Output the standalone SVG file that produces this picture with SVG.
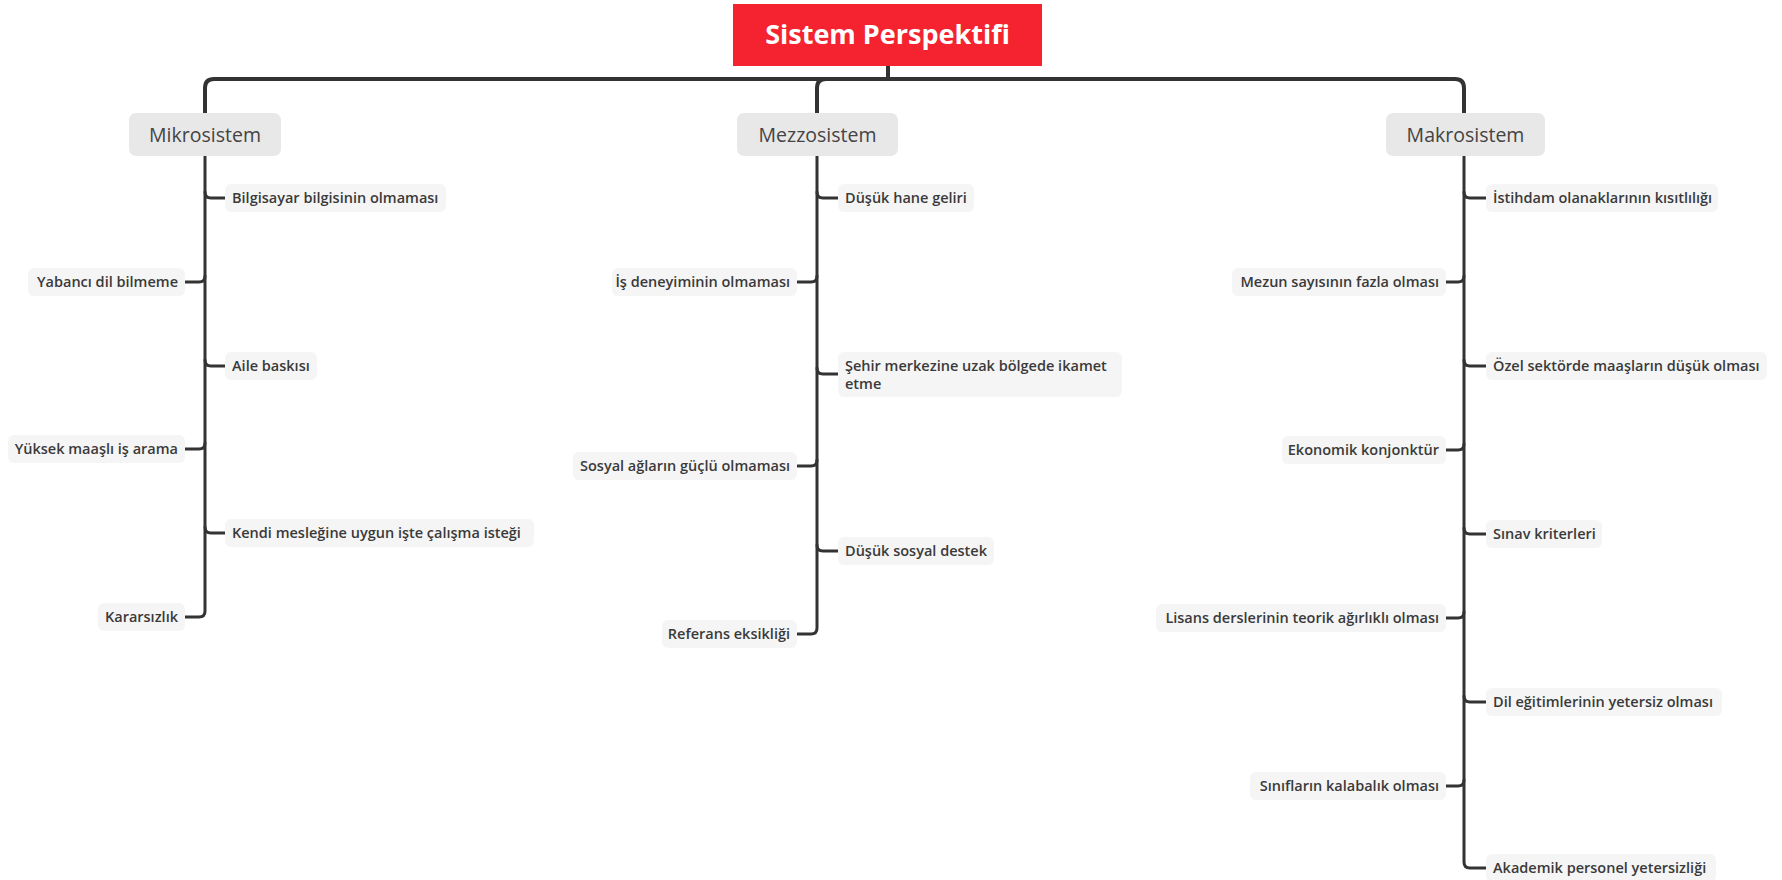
<svg xmlns="http://www.w3.org/2000/svg" width="1782" height="880" viewBox="0 0 1782 880">
<style>
.c{fill:none;stroke:#333;stroke-width:3;stroke-linecap:round;stroke-linejoin:round}
.m{fill:none;stroke:#333;stroke-width:4;stroke-linecap:round;stroke-linejoin:round}
.lb{fill:#f5f5f5}
.br{fill:#e8e8e8}
.t{font-family:"Open Sans","Noto Sans",sans-serif;font-weight:600;font-size:14.5px;fill:#3a3a3a}
.bt{font-family:"Open Sans","Noto Sans",sans-serif;font-weight:400;font-size:19.5px;fill:#444;text-anchor:middle}
.rt{font-family:"Open Sans","Noto Sans",sans-serif;font-weight:700;font-size:27px;fill:#fff;text-anchor:middle}
.e{text-anchor:end}
</style>
<rect width="1782" height="880" fill="#fff"/>
<g id="connectors">
<path class="m" d="M888,66 L888,79"/>
<path class="m" d="M205,113 L205,88 Q205,79 214,79 L1455,79 Q1464,79 1464,88 L1464,113"/>
<path class="m" d="M817,113 L817,88 Q817,79 826,79"/>
<path class="c" d="M205,156 L205,611 Q205,617 199,617 L185,617"/>
<path class="c" d="M205,192 Q205,198 211,198 L225,198"/>
<path class="c" d="M205,276 Q205,282 199,282 L185,282"/>
<path class="c" d="M205,360 Q205,366 211,366 L225,366"/>
<path class="c" d="M205,443 Q205,449 199,449 L185,449"/>
<path class="c" d="M205,527 Q205,533 211,533 L225,533"/>
<path class="c" d="M817,156 L817,628 Q817,634 811,634 L797,634"/>
<path class="c" d="M817,192 Q817,198 823,198 L838,198"/>
<path class="c" d="M817,276 Q817,282 811,282 L797,282"/>
<path class="c" d="M817,368 Q817,374 823,374 L838,374"/>
<path class="c" d="M817,460 Q817,466 811,466 L797,466"/>
<path class="c" d="M817,545 Q817,551 823,551 L838,551"/>
<path class="c" d="M1464,156 L1464,862 Q1464,868 1470,868 L1486,868"/>
<path class="c" d="M1464,192 Q1464,198 1470,198 L1486,198"/>
<path class="c" d="M1464,276 Q1464,282 1458,282 L1446,282"/>
<path class="c" d="M1464,360 Q1464,366 1470,366 L1486,366"/>
<path class="c" d="M1464,444 Q1464,450 1458,450 L1446,450"/>
<path class="c" d="M1464,528 Q1464,534 1470,534 L1486,534"/>
<path class="c" d="M1464,612 Q1464,618 1458,618 L1446,618"/>
<path class="c" d="M1464,696 Q1464,702 1470,702 L1486,702"/>
<path class="c" d="M1464,780 Q1464,786 1458,786 L1446,786"/>
</g>
<g id="root"><rect x="733" y="4" width="309" height="62" fill="#f5222f"/><text class="rt" x="887.5" y="44">Sistem Perspektifi</text></g>
<g id="mikro"><rect class="br" x="129" y="113" width="152" height="43" rx="7"/><text class="bt" x="205" y="141.5">Mikrosistem</text></g>
<g id="mezzo"><rect class="br" x="737" y="113" width="161" height="43" rx="7"/><text class="bt" x="817.5" y="141.5">Mezzosistem</text></g>
<g id="makro"><rect class="br" x="1386" y="113" width="159" height="43" rx="7"/><text class="bt" x="1465.5" y="141.5">Makrosistem</text></g>

<g id="n1"><rect class="lb" x="225" y="184" width="221" height="28" rx="6"/><text class="t" x="232" y="203">Bilgisayar bilgisinin olmaması</text></g>
<g id="n2"><rect class="lb" x="28" y="268" width="157" height="28" rx="6"/><text class="t e" x="178" y="287">Yabancı dil bilmeme</text></g>
<g id="n3"><rect class="lb" x="225" y="352" width="92" height="28" rx="6"/><text class="t" x="232" y="371">Aile baskısı</text></g>
<g id="n4"><rect class="lb" x="8" y="435" width="177" height="28" rx="6"/><text class="t e" x="178" y="454">Yüksek maaşlı iş arama</text></g>
<g id="n5"><rect class="lb" x="225" y="519" width="309" height="28" rx="6"/><text class="t" x="232" y="538">Kendi mesleğine uygun işte çalışma isteği</text></g>
<g id="n6"><rect class="lb" x="98" y="603" width="87" height="28" rx="6"/><text class="t e" x="178" y="622">Kararsızlık</text></g>

<g id="n7"><rect class="lb" x="838" y="184" width="136" height="28" rx="6"/><text class="t" x="845" y="203">Düşük hane geliri</text></g>
<g id="n8"><rect class="lb" x="612" y="268" width="185" height="28" rx="6"/><text class="t e" x="790" y="287">İş deneyiminin olmaması</text></g>
<g id="n9"><rect class="lb" x="838" y="352" width="284" height="45" rx="6"/><text class="t" x="845" y="371">Şehir merkezine uzak bölgede ikamet</text><text class="t" x="845" y="389">etme</text></g>
<g id="n10"><rect class="lb" x="573" y="452" width="224" height="28" rx="6"/><text class="t e" x="790" y="471">Sosyal ağların güçlü olmaması</text></g>
<g id="n11"><rect class="lb" x="838" y="537" width="156" height="28" rx="6"/><text class="t" x="845" y="556">Düşük sosyal destek</text></g>
<g id="n12"><rect class="lb" x="662" y="620" width="135" height="28" rx="6"/><text class="t e" x="790" y="639">Referans eksikliği</text></g>

<g id="n13"><rect class="lb" x="1486" y="184" width="232" height="28" rx="6"/><text class="t" x="1493" y="203">İstihdam olanaklarının kısıtlılığı</text></g>
<g id="n14"><rect class="lb" x="1232" y="268" width="214" height="28" rx="6"/><text class="t e" x="1439" y="287">Mezun sayısının fazla olması</text></g>
<g id="n15"><rect class="lb" x="1486" y="352" width="281" height="28" rx="6"/><text class="t" x="1493" y="371">Özel sektörde maaşların düşük olması</text></g>
<g id="n16"><rect class="lb" x="1282" y="436" width="164" height="28" rx="6"/><text class="t e" x="1439" y="455">Ekonomik konjonktür</text></g>
<g id="n17"><rect class="lb" x="1486" y="520" width="116" height="28" rx="6"/><text class="t" x="1493" y="539">Sınav kriterleri</text></g>
<g id="n18"><rect class="lb" x="1156" y="604" width="290" height="28" rx="6"/><text class="t e" x="1439" y="623">Lisans derslerinin teorik ağırlıklı olması</text></g>
<g id="n19"><rect class="lb" x="1486" y="688" width="236" height="28" rx="6"/><text class="t" x="1493" y="707">Dil eğitimlerinin yetersiz olması</text></g>
<g id="n20"><rect class="lb" x="1250" y="772" width="196" height="28" rx="6"/><text class="t e" x="1439" y="791">Sınıfların kalabalık olması</text></g>
<g id="n21"><rect class="lb" x="1486" y="854" width="230" height="28" rx="6"/><text class="t" x="1493" y="873">Akademik personel yetersizliği</text></g>
</svg>
